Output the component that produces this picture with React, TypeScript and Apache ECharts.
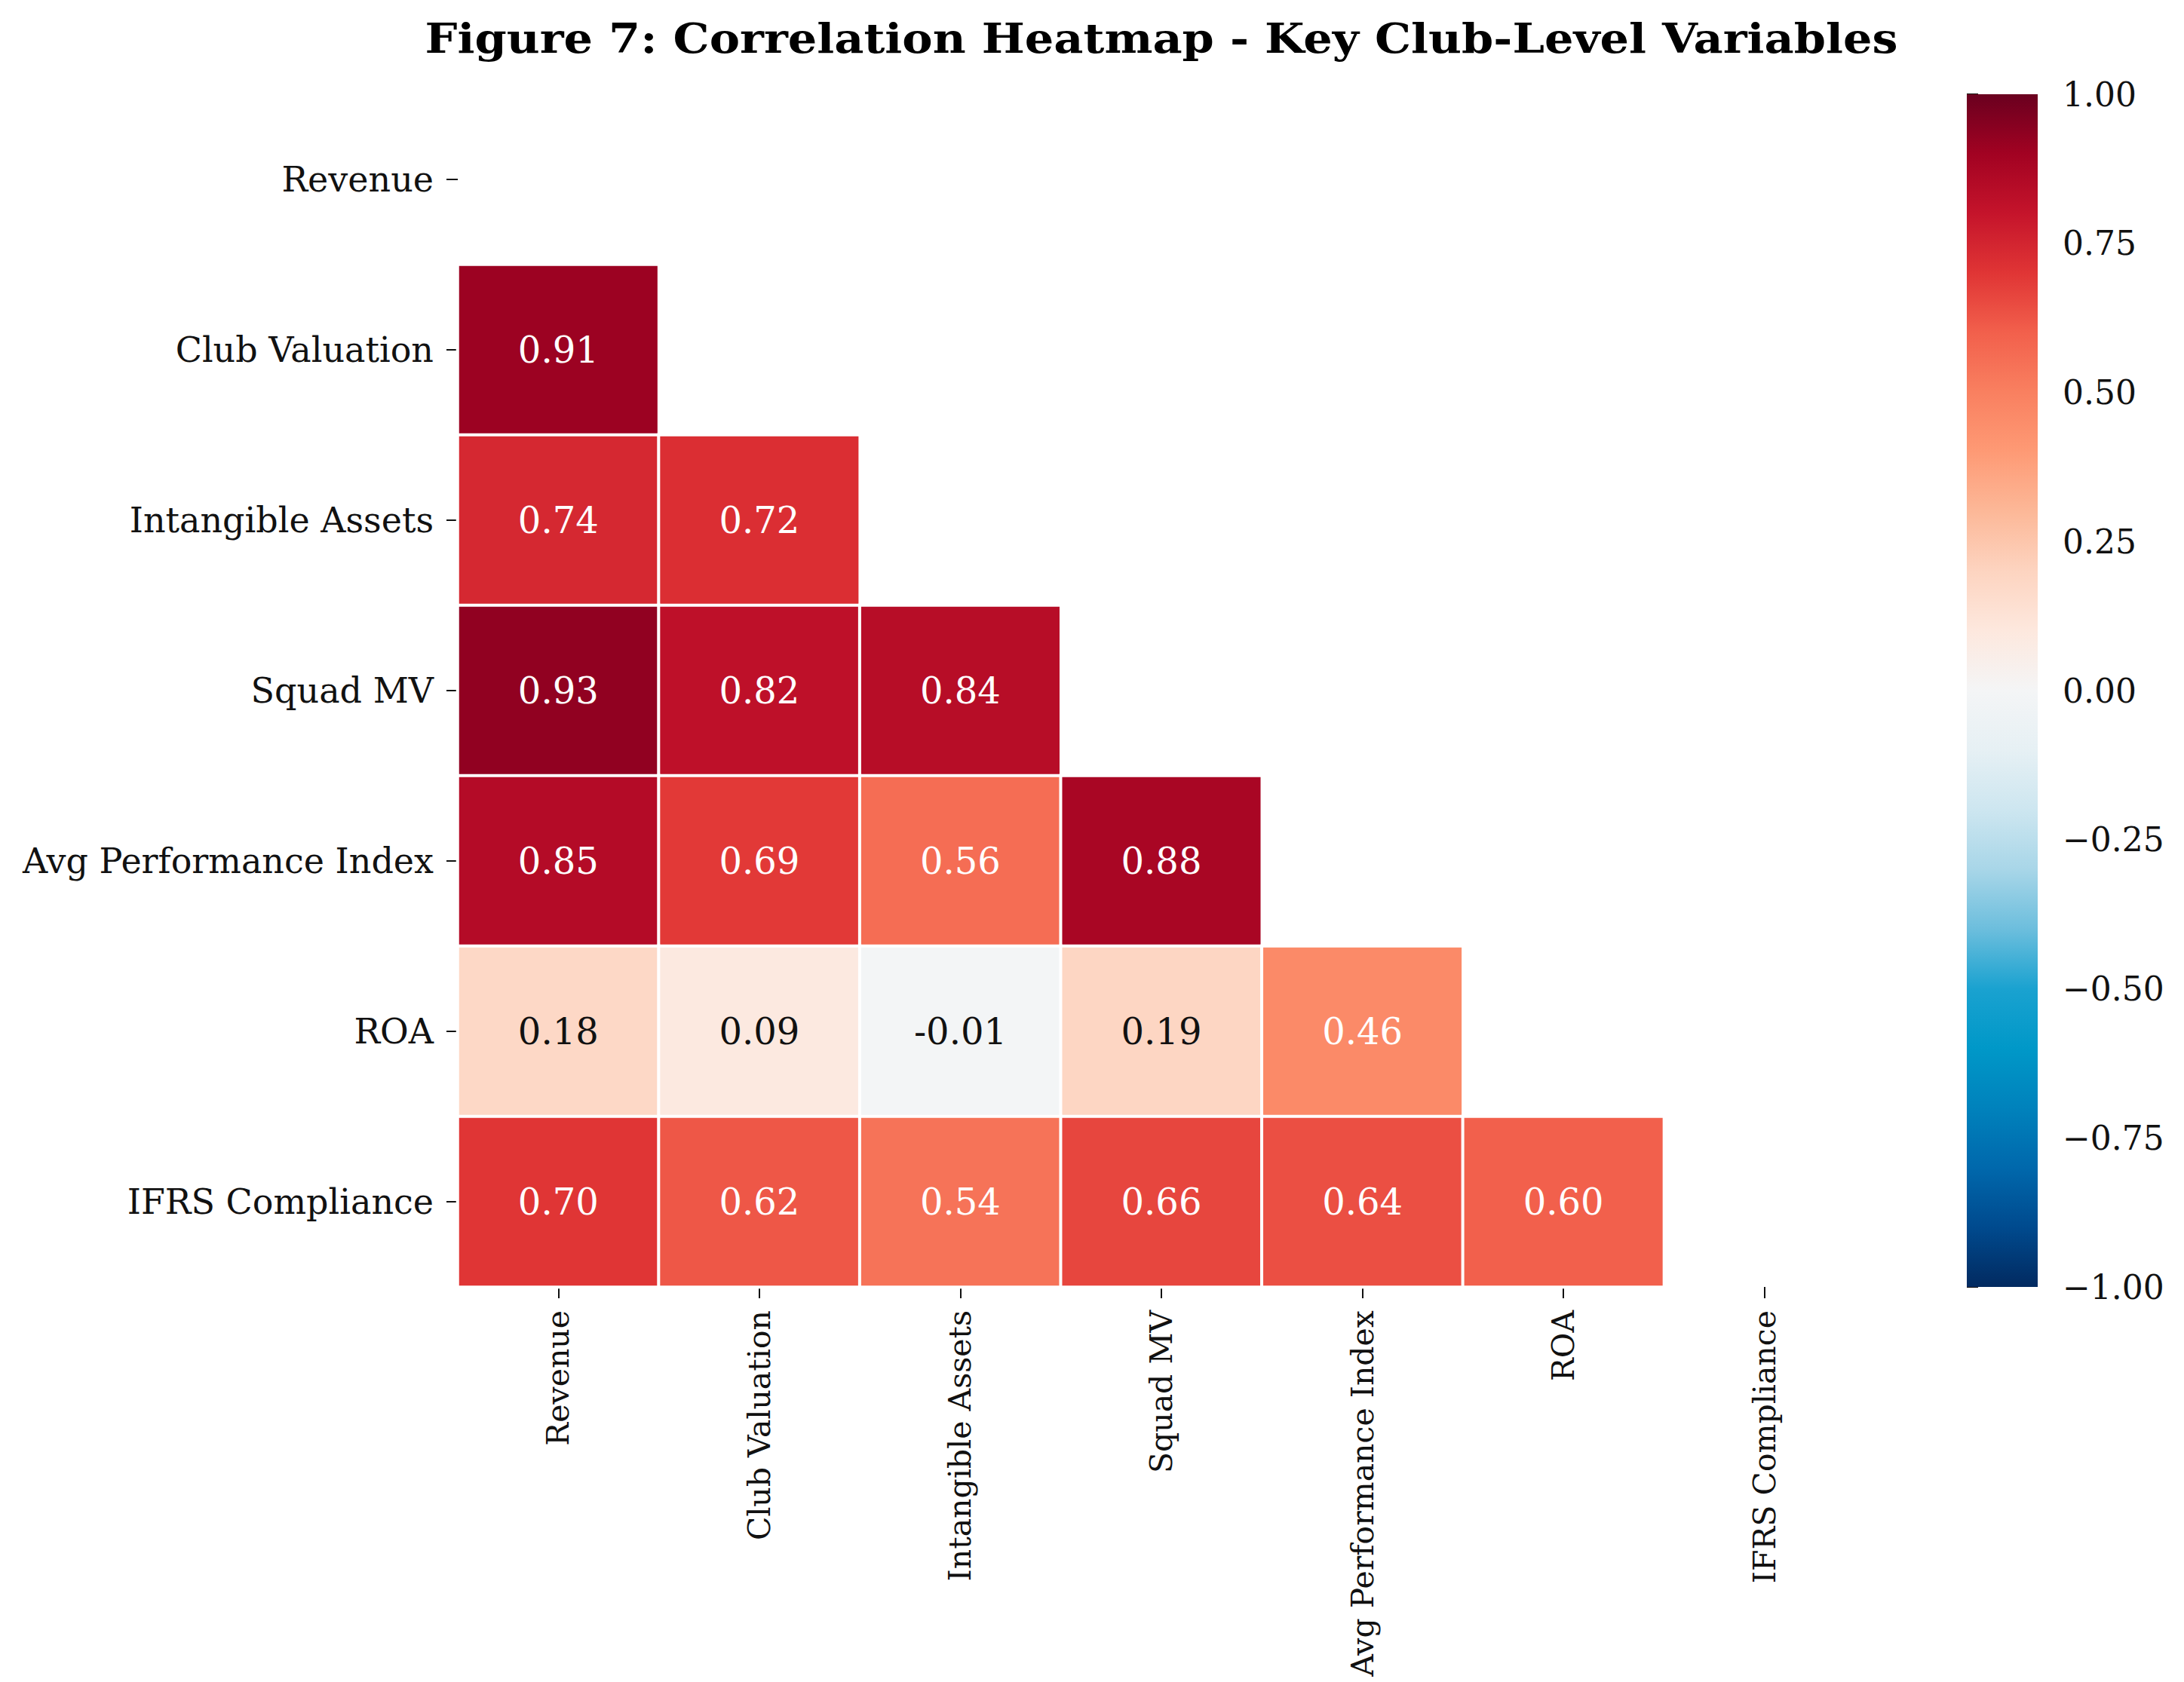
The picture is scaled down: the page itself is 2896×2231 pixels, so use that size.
import React, { useEffect, useRef } from 'react';
import * as echarts from 'echarts';

// Variables shown on both axes (top-to-bottom / left-to-right)
const VARIABLES = [
  'Revenue',
  'Club Valuation',
  'Intangible Assets',
  'Squad MV',
  'Avg Performance Index',
  'ROA',
  'IFRS Compliance',
];

// Lower-triangle correlations, one array per row (columns in VARIABLES order)
const ROW_REVENUE: number[] = [];
const ROW_CLUB_VALUATION = [0.91];
const ROW_INTANGIBLE_ASSETS = [0.74, 0.72];
const ROW_SQUAD_MV = [0.93, 0.82, 0.84];
const ROW_AVG_PERFORMANCE = [0.85, 0.69, 0.56, 0.88];
const ROW_ROA = [0.18, 0.09, -0.01, 0.19, 0.46];
const ROW_IFRS = [0.70, 0.62, 0.54, 0.66, 0.64, 0.60];

const LOWER_ROWS = [
  ROW_REVENUE,
  ROW_CLUB_VALUATION,
  ROW_INTANGIBLE_ASSETS,
  ROW_SQUAD_MV,
  ROW_AVG_PERFORMANCE,
  ROW_ROA,
  ROW_IFRS,
];

// Colour bar range and tick step
const COLOR_MIN = -1;
const COLOR_MAX = 1;
const COLOR_TICK_STEP = 0.25;

// Diverging red-blue palette, evenly spaced from -1 to 1
const DIVERGING = [
  '#022a60', '#004a8e', '#0068ac', '#0082bc', '#0098c8',
  '#1aa2d0', '#6cbedd', '#a8d6e8', '#cde6f0', '#e6f0f4',
  '#f4f5f6',
  '#fde8de', '#fdd4c0', '#fcb898', '#fe9a75', '#f98060',
  '#f2604c', '#e03535', '#c5142b', '#a20222', '#6a001f',
];

const TITLE = 'Figure 7: Correlation Heatmap - Key Club-Level Variables';
const FONT = '"DejaVu Serif", "Liberation Serif", serif';

const W = 2896;
const H = 2231;

function buildCells() {
  const cells: any[] = [];
  LOWER_ROWS.forEach((row, i) => {
    row.forEach((v, j) => {
      cells.push({
        value: [j, i, v],
        label: { color: v < 0.3 ? '#111111' : '#ffffff' },
      });
    });
  });
  return cells;
}

function buildOption(): any {
  const gradientStops = DIVERGING.map((c, k) => ({
    offset: 1 - k / (DIVERGING.length - 1),
    color: c,
  })).reverse();

  return {
    animation: false,
    backgroundColor: '#ffffff',
    textStyle: { fontFamily: FONT },
    graphic: [
      {
        type: 'text',
        x: 1540,
        y: 51,
        scaleX: 1.12,
        style: {
          text: TITLE,
          fontFamily: FONT,
          fontSize: 54,
          fontWeight: 'bold',
          fill: '#000000',
          align: 'center',
          verticalAlign: 'middle',
        },
      },
    ],
    grid: [
      { left: 607, top: 125, width: 1866, height: 1582 },
      { left: 2608, top: 125, width: 94, height: 1582 },
    ],
    xAxis: [
      {
        type: 'category',
        gridIndex: 0,
        data: VARIABLES,
        position: 'bottom',
        axisLine: { show: false },
        axisTick: {
          show: true,
          alignWithLabel: true,
          length: 15,
          lineStyle: { color: '#111111', width: 2 },
        },
        axisLabel: {
          rotate: 90,
          margin: 31,
          interval: 0,
          fontSize: 41,
          fontFamily: FONT,
          color: '#111111',
        },
        splitLine: { show: false },
        splitArea: { show: false },
      },
      {
        type: 'value',
        gridIndex: 1,
        min: 0,
        max: 1,
        show: false,
      },
    ],
    yAxis: [
      {
        type: 'category',
        gridIndex: 0,
        data: VARIABLES,
        inverse: true,
        axisLine: { show: false },
        axisTick: {
          show: true,
          alignWithLabel: true,
          length: 15,
          lineStyle: { color: '#111111', width: 2 },
        },
        axisLabel: {
          margin: 32,
          interval: 0,
          fontSize: 46,
          fontFamily: FONT,
          color: '#111111',
        },
        splitLine: { show: false },
        splitArea: { show: false },
      },
      {
        type: 'value',
        gridIndex: 1,
        min: COLOR_MIN,
        max: COLOR_MAX,
        interval: COLOR_TICK_STEP,
        position: 'right',
        axisLine: { show: false },
        axisTick: {
          show: true,
          length: 15,
          lineStyle: { color: '#111111', width: 2 },
        },
        axisLabel: {
          margin: 33,
          fontSize: 44,
          fontFamily: FONT,
          color: '#111111',
          formatter: (v: number) => v.toFixed(2).replace('-', '\u2212'),
        },
        splitLine: { show: false },
      },
    ],
    visualMap: {
      type: 'continuous',
      show: false,
      min: COLOR_MIN,
      max: COLOR_MAX,
      dimension: 2,
      seriesIndex: 0,
      inRange: { color: DIVERGING },
    },
    series: [
      {
        type: 'heatmap',
        xAxisIndex: 0,
        yAxisIndex: 0,
        data: buildCells(),
        itemStyle: { borderColor: '#ffffff', borderWidth: 4 },
        label: {
          show: true,
          fontSize: 48,
          fontFamily: FONT,
          formatter: (p: any) => Number(p.value[2]).toFixed(2),
        },
        emphasis: { disabled: true },
      },
      {
        type: 'custom',
        xAxisIndex: 1,
        yAxisIndex: 1,
        data: [[0, COLOR_MIN, 1, COLOR_MAX]],
        silent: true,
        renderItem: (params: any, api: any) => {
          const topLeft = api.coord([api.value(0), api.value(3)]);
          const bottomRight = api.coord([api.value(2), api.value(1)]);
          return {
            type: 'rect',
            shape: {
              x: topLeft[0],
              y: topLeft[1],
              width: bottomRight[0] - topLeft[0],
              height: bottomRight[1] - topLeft[1],
            },
            style: {
              fill: new echarts.graphic.LinearGradient(0, 0, 0, 1, gradientStops),
            },
          };
        },
      },
    ],
  };
}

export default function App() {
  const ref = useRef<HTMLDivElement>(null);

  useEffect(() => {
    document.body.style.margin = '0';
    document.body.style.overflow = 'hidden';
    if (!ref.current) return;
    const chart = echarts.init(ref.current, null, { renderer: 'svg' });
    chart.setOption(buildOption());
    return () => {
      chart.dispose();
    };
  }, []);

  return <div ref={ref} style={{ width: W, height: H }} />;
}
